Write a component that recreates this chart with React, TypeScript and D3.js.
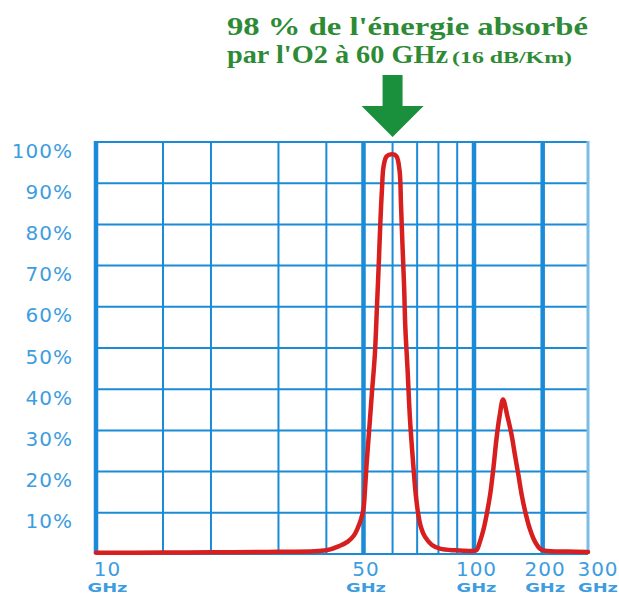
import * as d3 from "d3"

// absorption curve (GHz, % absorbed)
const freqGHz = [
  10, 15, 20, 30, 40, 43.4, 45.5, 47.2, 48.4, 49.3, 50, 50.5, 51.0, 51.8, 52.7,
  53.7, 54.4, 55.0, 55.55, 56.1, 56.7, 57.8, 60, 61.5, 62.7, 63.25, 63.85, 64.5,
  65.0, 65.9, 66.9, 68.2, 69.3, 70.4, 71.7, 73.5, 76.8, 80.8, 88.8, 100,
  102.8, 106.2, 110.1, 114.0, 118.1, 121.7, 125.5, 129.5, 134.0,
  140.0, 146.0, 151.2, 156.7, 162.3, 169.0, 175.9, 185.0, 194.6,
  204.2, 250, 300,
]
const absorption = [
  0.3, 0.35, 0.4, 0.55, 0.9, 2, 3, 4.5, 6.5, 8.5, 11, 16, 22, 30, 39,
  48.5, 60, 70, 80, 88, 94, 96.5, 97, 96.5, 93, 85, 75, 65,
  55, 45, 33, 22.5, 15, 10, 6.5, 4.2, 2.2, 1.3, 0.9, 0.8,
  1, 3, 6, 10, 15, 21, 28, 33.5, 37.5,
  33.5, 29, 24, 19, 14, 9.5, 6, 3, 1.3,
  0.8, 0.6, 0.5,
]

const yTicks = [10, 20, 30, 40, 50, 60, 70, 80, 90, 100]
const xGrid = [10, 15, 20, 30, 40, 50, 60, 70, 80, 90, 100, 200, 300]
const xMajor = [10, 50, 100, 200]
const xLabels = [10, 50, 100, 200, 300]

// the frequency axis is not a clean log scale: piecewise on log10
const xBreaks = [10, 15, 20, 50, 100, 200, 300]
const xBreakFrac = [0, 0.1362, 0.2337, 0.5437, 0.7683, 0.9079, 1]

const W = 619
const H = 596
const left = 96
const right = 588
const top = 142
const bottom = 554

const blue = "#1b8bd8"
const labelBlue = "#3d9de0"
const green = "#2e8b35"

export default function App() {
  const xLog = d3
    .scaleLinear()
    .domain(xBreaks.map(Math.log10))
    .range(xBreakFrac.map((f) => left + f * (right - left)))
  const x = (ghz: number) => xLog(Math.log10(ghz))
  const y = d3.scaleLinear([0, 100], [bottom, top])

  const pts = freqGHz.map((f, i) => [f, absorption[i]] as [number, number])
  const line = d3
    .line<[number, number]>()
    .x((d) => x(d[0]))
    .y((d) => y(d[1]))
    .curve(d3.curveCatmullRom.alpha(0.5))

  const ax = x(60)

  return (
    <svg
      width={W}
      height={H}
      style={{ position: "absolute", left: 0, top: 0, background: "#fff" }}
    >
      <g
        fill={green}
        fontFamily="'Liberation Serif', 'Times New Roman', serif"
        fontWeight="bold"
      >
        <text x={227} y={35} fontSize={25} textLength={361} lengthAdjust="spacingAndGlyphs">
          98 % de l'énergie absorbé
        </text>
        <text x={227} y={63} fontSize={25} textLength={221} lengthAdjust="spacingAndGlyphs">
          par l'O2 à 60 GHz
        </text>
        <text x={452} y={63} fontSize={16} textLength={120} lengthAdjust="spacingAndGlyphs">
          (16 dB/Km)
        </text>
      </g>

      <path
        d={`M${ax - 10},75 H${ax + 10} V106 H${ax + 31} L${ax},137 L${ax - 31},106 H${ax - 10} Z`}
        fill="#1a8f3c"
      />

      {/* grid */}
      <g stroke={blue}>
        {yTicks.map((t) => (
          <line key={t} x1={left} x2={right} y1={y(t)} y2={y(t)} strokeWidth={2} />
        ))}
        <line x1={left} x2={right} y1={bottom} y2={bottom} strokeWidth={2} />
        {xGrid
          .filter((v) => !xMajor.includes(v) && v !== 300)
          .map((v) => (
            <line key={v} x1={x(v)} x2={x(v)} y1={top} y2={bottom} strokeWidth={2} />
          ))}
        {xMajor.map((v) => (
          <line key={v} x1={x(v)} x2={x(v)} y1={top - 1} y2={bottom} strokeWidth={4.5} />
        ))}
        <line
          x1={x(300)}
          x2={x(300)}
          y1={top - 1}
          y2={bottom}
          strokeWidth={3}
          stroke="#7dbbe8"
        />
      </g>

      <path
        d={line(pts) ?? undefined}
        fill="none"
        stroke="#d71f1f"
        strokeWidth={4.5}
        strokeLinejoin="round"
        strokeLinecap="round"
      />

      <g fill={labelBlue} fontFamily="'DejaVu Sans', Verdana, sans-serif">
        {yTicks.map((t) => (
          <text
            key={t}
            x={73}
            y={y(t) + 15.5}
            fontSize={20}
            letterSpacing={1}
            textAnchor="end"
          >
            {t}%
          </text>
        ))}
        {xLabels.map((v, i) => {
          const first = i === 0
          const last = i === xLabels.length - 1
          const cx = first ? x(v) + 11.5 : last ? x(v) + 10 : x(v) + 2.5
          return (
            <g key={v}>
              <text
                x={cx}
                y={576}
                fontSize={20}
                letterSpacing={1}
                textAnchor="middle"
              >
                {v}
              </text>
              <text
                x={cx - 20}
                y={592}
                fontSize={12}
                fontWeight="bold"
                textLength={40}
                lengthAdjust="spacingAndGlyphs"
              >
                GHz
              </text>
            </g>
          )
        })}
      </g>
    </svg>
  )
}
